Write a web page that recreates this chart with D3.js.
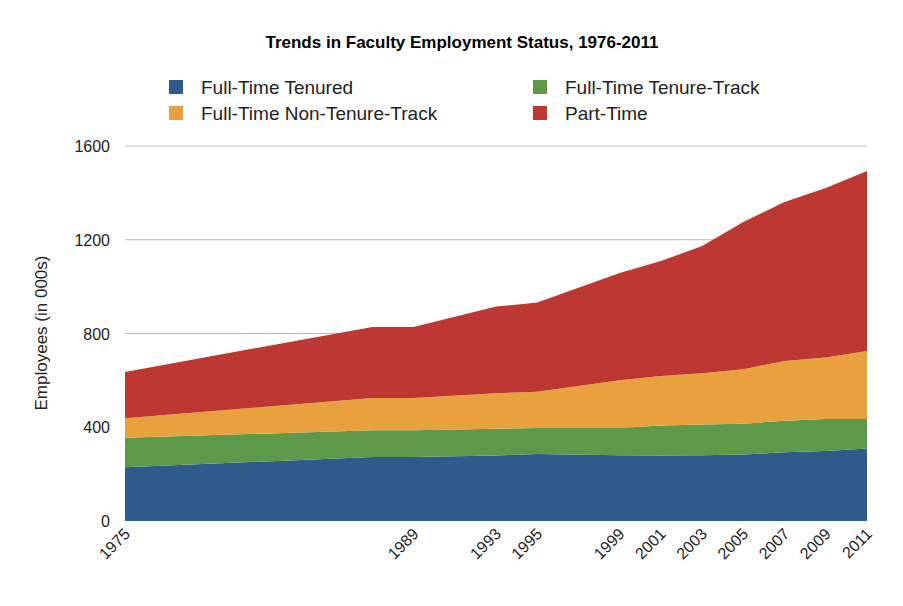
<!DOCTYPE html>
<html><head><meta charset="utf-8">
<script src="https://cdn.jsdelivr.net/npm/d3@7"></script>
<style>body{margin:0;background:#fff}text{font-family:"Liberation Sans",Arial,sans-serif}</style>
</head><body><svg id="c" width="903" height="606"></svg>
<script>
const years = [1975,1987,1989,1993,1995,1999,2001,2003,2005,2007,2009,2011];
const tickYears = [1975,1989,1993,1995,1999,2001,2003,2005,2007,2009,2011];
const tenured = [229,273,273,280,286,281,279,281,284,293,299,309];
const tenureTrack = [126,114,114,114,111,116,128,131,131,135,136,126];
const nonTenureTrack = [83,138,138,151,155,204,212,218,233,255,263,290];
const partTime = [198,303,303,370,380,457,490,543,628,678,723,768];
const seriesNames = ["Full-Time Tenured","Full-Time Tenure-Track","Full-Time Non-Tenure-Track"," Part-Time"];
const colors = ["#2f5a8c","#5e9849","#e8a13c","#bd3832"];
const yTicks = [0,400,800,1200,1600];

const svg = d3.select("#c");
const x = d3.scaleLinear().domain([1975,2011]).range([125,867]);
const y = d3.scaleLinear().domain([0,1600]).range([521,146]);
const rows = years.map((yr,i)=>({year:yr,s0:tenured[i],s1:tenureTrack[i],s2:nonTenureTrack[i],s3:partTime[i]}));
const stack = d3.stack().keys(["s0","s1","s2","s3"])(rows);

svg.append("g").selectAll("line").data(yTicks.filter(d=>d>0)).join("line")
  .attr("x1",125).attr("x2",867).attr("y1",d=>y(d)).attr("y2",d=>y(d))
  .attr("stroke","#bbb").attr("stroke-width",1);

const area = d3.area().x(d=>x(d.data.year)).y0(d=>y(d[0])).y1(d=>y(d[1]));
svg.append("g").selectAll("path").data(stack).join("path")
  .attr("d",area).attr("fill",(d,i)=>colors[i]);

svg.append("g").selectAll("text").data(yTicks).join("text")
  .attr("x",110).attr("y",d=>y(d)+6).attr("text-anchor","end")
  .attr("font-size",16).attr("fill","#222").text(d=>d);

svg.append("g").selectAll("text").data(tickYears).join("text")
  .attr("transform",d=>`translate(${x(d)+6},${535}) rotate(-45)`)
  .attr("text-anchor","end").attr("font-size",16).attr("fill","#222").text(d=>d);

svg.append("text").attr("transform","translate(47,333) rotate(-90)")
  .attr("text-anchor","middle").attr("font-size",17).attr("fill","#222").text("Employees (in 000s)");

svg.append("text").attr("x",462).attr("y",48).attr("text-anchor","middle")
  .attr("font-size",17).attr("font-weight","bold").attr("fill","#000")
  .text("Trends in Faculty Employment Status, 1976-2011");

const legPos = [[176,87],[540,87],[176,113],[540,113]];
const legOrder = [0,1,2,3];
const lg = svg.append("g").selectAll("g").data(legOrder).join("g")
  .attr("transform",(d,i)=>`translate(${legPos[i][0]},${legPos[i][1]})`);
lg.append("rect").attr("x",-7).attr("y",-7).attr("width",14).attr("height",14).attr("fill",d=>colors[d]);
lg.append("text").attr("x",25).attr("y",7).attr("font-size",19).attr("fill","#222").text(d=>seriesNames[d]);
</script></body></html>
